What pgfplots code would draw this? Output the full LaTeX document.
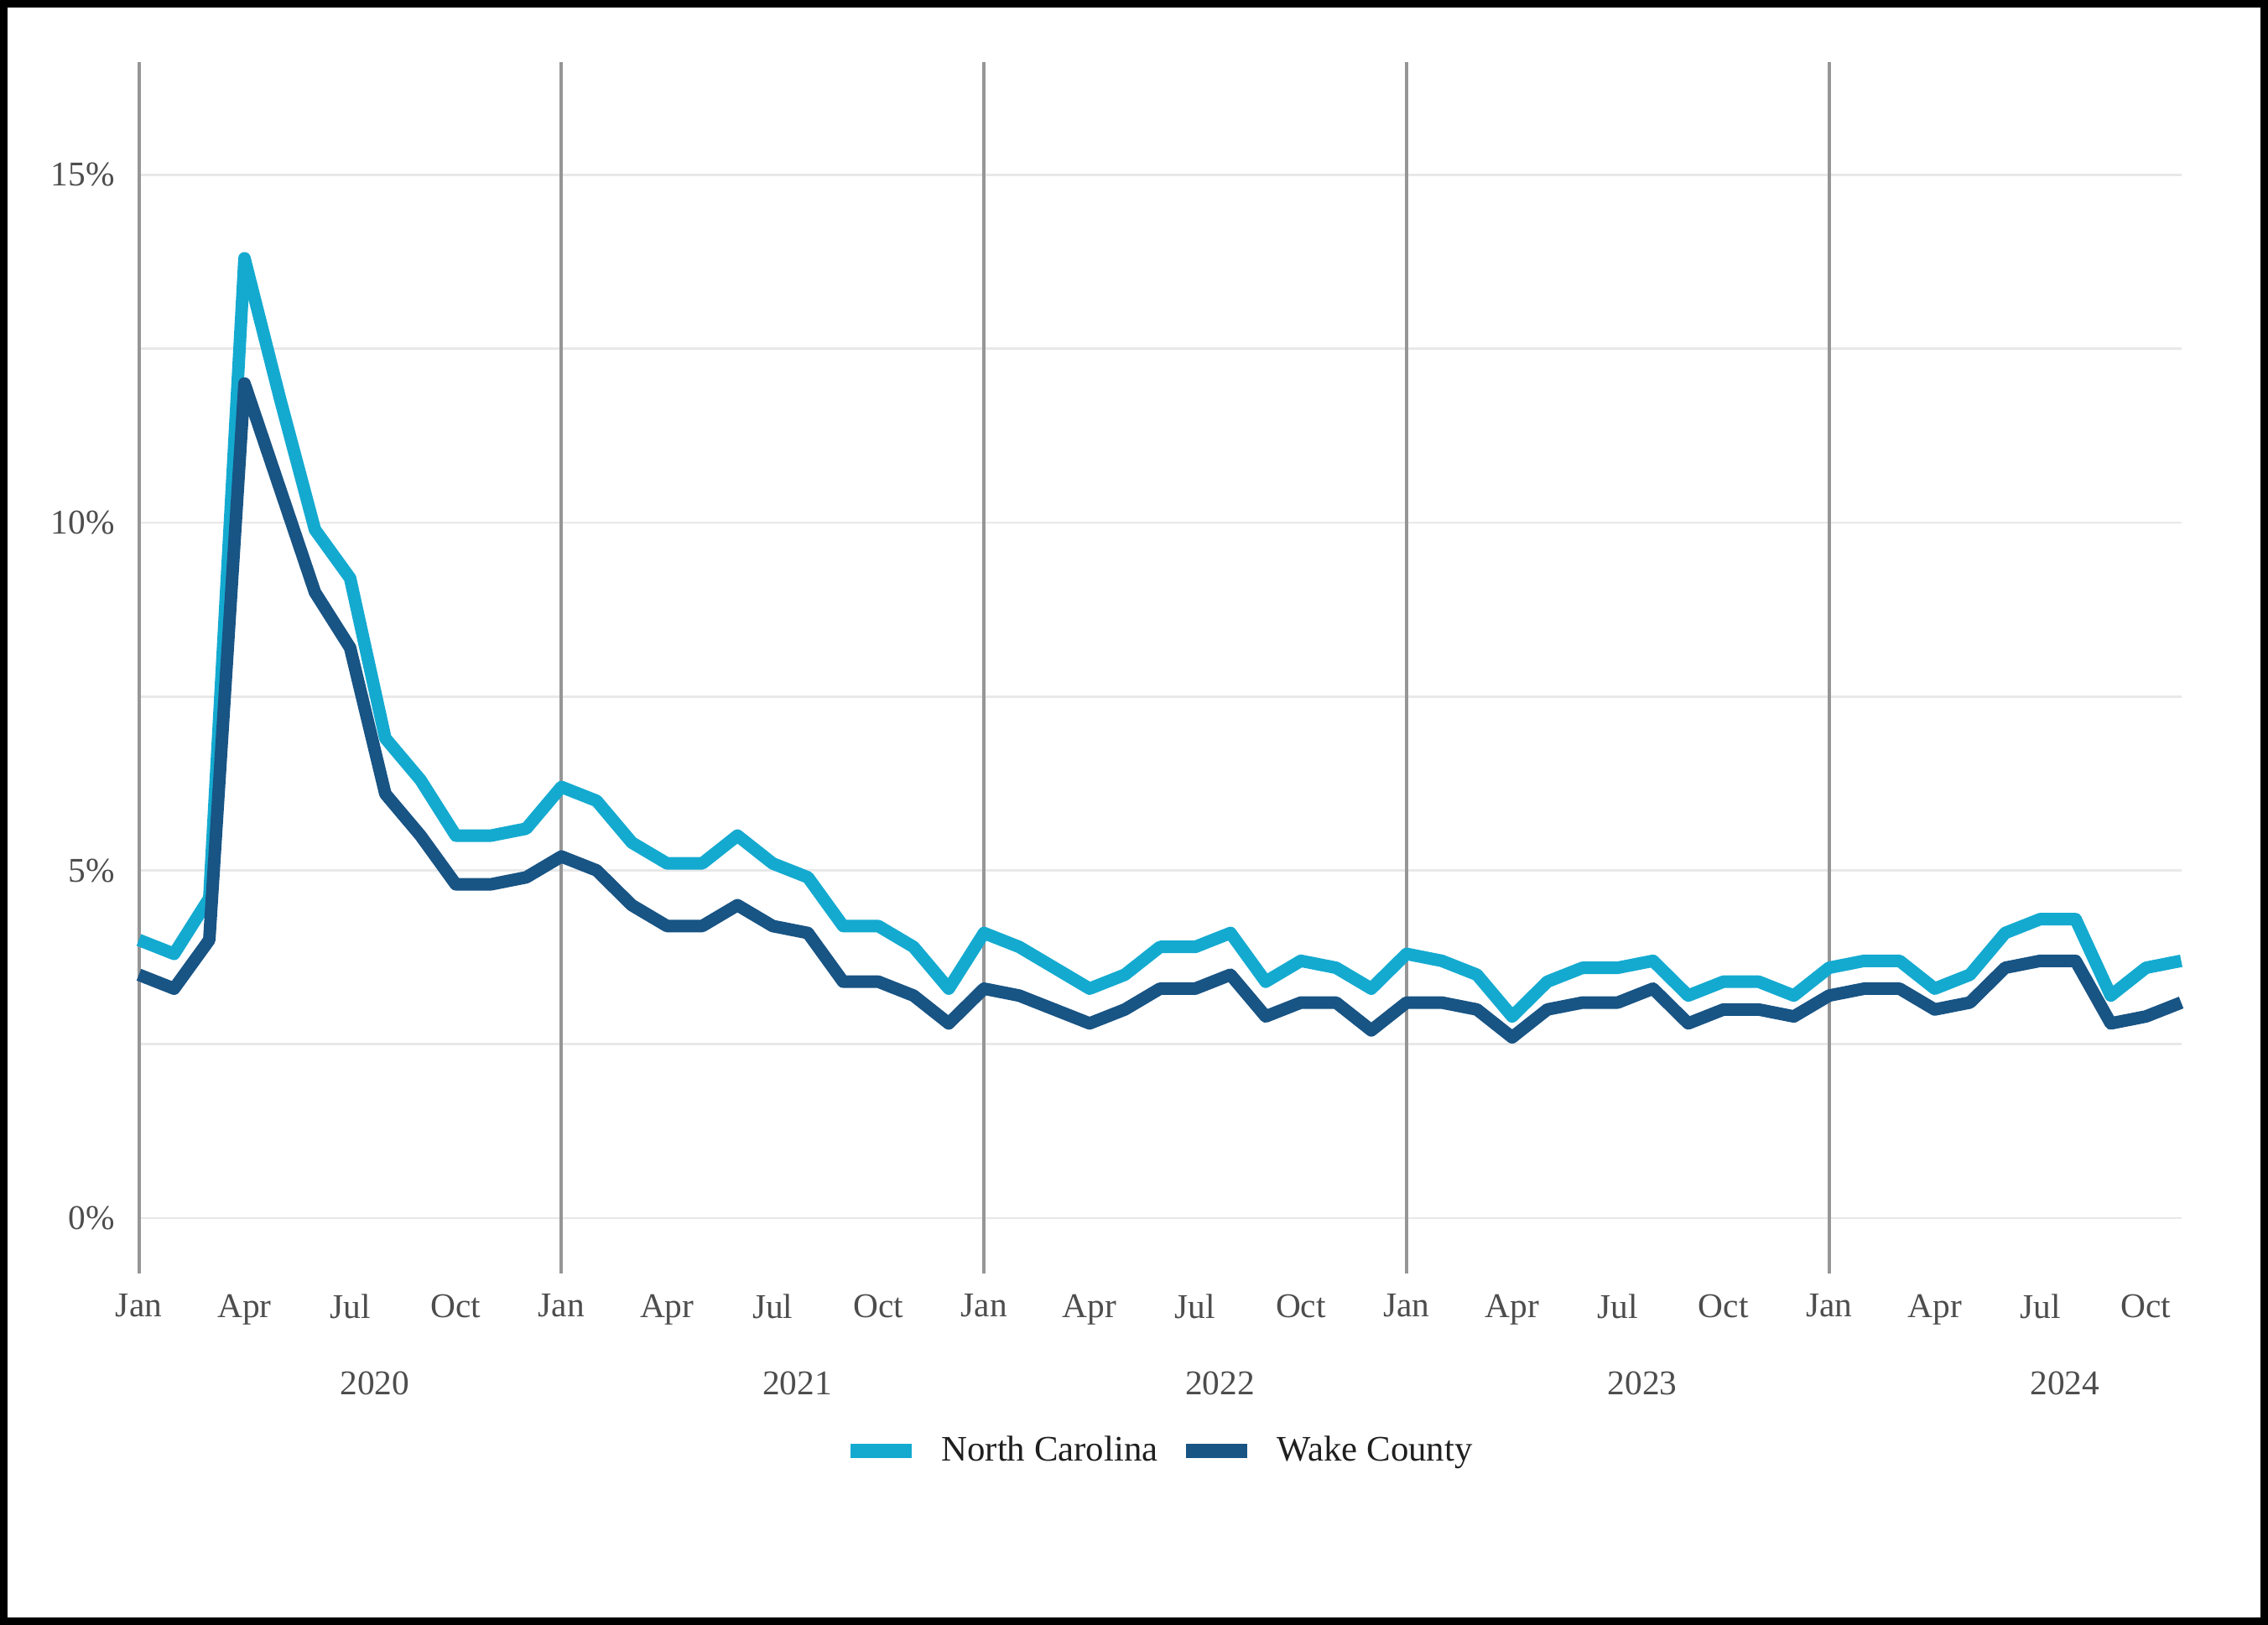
\documentclass[border=0pt]{standalone}
\usepackage{fontspec}
\setmainfont{Liberation Serif}
\usepackage{pgfplots}
\usepackage{pgfplotstable}
\pgfplotsset{compat=1.18}
\definecolor{nc}{RGB}{20,170,208}
\definecolor{wake}{RGB}{24,84,132}
\definecolor{tickgray}{RGB}{77,77,77}
\definecolor{gridlight}{RGB}{232,232,232}
\definecolor{griddark}{RGB}{150,150,150}
\pgfplotstableread{
i nc wake
0 4.0 3.5
1 3.8 3.3
2 4.6 4.0
3 13.8 12.0
4 11.8 10.5
5 9.9 9.0
6 9.2 8.2
7 6.9 6.1
8 6.3 5.5
9 5.5 4.8
10 5.5 4.8
11 5.6 4.9
12 6.2 5.2
13 6.0 5.0
14 5.4 4.5
15 5.1 4.2
16 5.1 4.2
17 5.5 4.5
18 5.1 4.2
19 4.9 4.1
20 4.2 3.4
21 4.2 3.4
22 3.9 3.2
23 3.3 2.8
24 4.1 3.3
25 3.9 3.2
26 3.6 3.0
27 3.3 2.8
28 3.5 3.0
29 3.9 3.3
30 3.9 3.3
31 4.1 3.5
32 3.4 2.9
33 3.7 3.1
34 3.6 3.1
35 3.3 2.7
36 3.8 3.1
37 3.7 3.1
38 3.5 3.0
39 2.9 2.6
40 3.4 3.0
41 3.6 3.1
42 3.6 3.1
43 3.7 3.3
44 3.2 2.8
45 3.4 3.0
46 3.4 3.0
47 3.2 2.9
48 3.6 3.2
49 3.7 3.3
50 3.7 3.3
51 3.3 3.0
52 3.5 3.1
53 4.1 3.6
54 4.3 3.7
55 4.3 3.7
56 3.2 2.8
57 3.6 2.9
58 3.7 3.1
}\datatable
\begin{document}
\fontsize{7.2}{8.6}\selectfont
\begin{tikzpicture}
\useasboundingbox (0,0) rectangle (470.4pt,336.9pt);
\draw[line width=1.5pt] (0.75pt,0.75pt) rectangle (469.65pt,336.15pt);
\begin{axis}[
  at={(28.8pt,72.9pt)}, anchor=south west,
  scale only axis, width=423.6pt, height=251.1pt,
  xmin=0, xmax=58, ymin=-0.79, ymax=16.62,
  clip=false,
  axis line style={draw=none},
  major tick length=0pt, minor tick length=0pt,
  xtick={0,3,...,57},
  xticklabels={Jan,Apr,Jul,Oct,Jan,Apr,Jul,Oct,Jan,Apr,Jul,Oct,Jan,Apr,Jul,Oct,Jan,Apr,Jul,Oct},
  ytick={0,5,10,15},
  yticklabels={0\%,5\%,10\%,15\%},
  minor ytick={2.5,7.5,12.5},
  ymajorgrids, yminorgrids,
  major grid style={color=gridlight, line width=0.5pt},
  minor grid style={color=gridlight, line width=0.5pt},
  extra x ticks={0,12,24,36,48},
  extra x tick labels={},
  extra x tick style={grid=major, major grid style={color=griddark, line width=0.7pt}},
  tick label style={color=tickgray, font=\fontsize{7.2}{8.6}\selectfont},
  xticklabel style={yshift=-1.8pt},
  yticklabel style={xshift=-2.4pt},
  legend columns=2,
  legend style={at={(0.5,0)}, anchor=center, yshift=-36.9pt, xshift=0.6pt, draw=none, fill=none,
    font=\fontsize{7.45}{8.9}\selectfont\color{black!88},
    /tikz/every odd column/.append style={column sep=2.7pt},
    /tikz/every even column/.append style={column sep=2.4pt}},
  legend image code/.code={\draw[#1, line width=3pt, line cap=butt] (0pt,0pt) -- (12.6pt,0pt);},
]
\addplot[nc, line width=2.6pt, line join=round] table[x=i, y=nc] {\datatable};
\addlegendentry{North Carolina}
\addplot[wake, line width=2.6pt, line join=round] table[x=i, y=wake] {\datatable};
\addlegendentry{Wake County}
\node[color=tickgray, yshift=-22.8pt] at (axis cs:6.7,-0.79) {2020};
\node[color=tickgray, yshift=-22.8pt] at (axis cs:18.7,-0.79) {2021};
\node[color=tickgray, yshift=-22.8pt] at (axis cs:30.7,-0.79) {2022};
\node[color=tickgray, yshift=-22.8pt] at (axis cs:42.7,-0.79) {2023};
\node[color=tickgray, yshift=-22.8pt] at (axis cs:54.7,-0.79) {2024};
\end{axis}
\end{tikzpicture}
\end{document}
